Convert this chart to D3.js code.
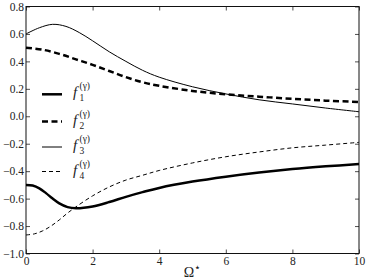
<!DOCTYPE html>
<html>
<head>
<meta charset="utf-8">
<script src="https://cdn.jsdelivr.net/npm/d3@7"></script>
<style>
  body { margin: 0; background: #fff; }
  svg { display: block; }
  svg text { font-family: "Liberation Serif", "DejaVu Serif", serif !important; }
</style>
</head>
<body>
<div id="chart"></div>
<script>
// data
const omega1 = [0, 0.2, 0.4, 0.6, 0.8, 1, 1.25, 1.5, 2, 2.5, 3, 3.5, 4, 5, 6, 7, 8, 9, 10];
const f1 = [-0.5, -0.505, -0.525, -0.56, -0.6, -0.635, -0.662, -0.67, -0.657, -0.625, -0.587, -0.553, -0.522, -0.476, -0.44, -0.41, -0.385, -0.365, -0.348];

const omega2 = [0, 0.5, 1, 1.5, 2, 2.5, 3, 3.5, 4, 5, 6, 7, 8, 9, 10];
const f2 = [0.5, 0.485, 0.455, 0.415, 0.375, 0.33, 0.285, 0.248, 0.222, 0.185, 0.16, 0.143, 0.127, 0.114, 0.104];

const omega3 = [0, 0.4, 0.8, 1.2, 1.6, 2, 2.5, 3, 3.5, 4, 5, 6, 7, 8, 9, 10];
const f3 = [0.6, 0.645, 0.67, 0.655, 0.61, 0.55, 0.47, 0.4, 0.335, 0.285, 0.215, 0.163, 0.12, 0.09, 0.06, 0.033];

const omega4 = [0, 0.25, 0.5, 0.75, 1, 1.25, 1.5, 2, 2.5, 3, 3.5, 4, 5, 6, 7, 8, 9, 10];
const f4 = [-0.865, -0.857, -0.835, -0.8, -0.755, -0.705, -0.66, -0.58, -0.515, -0.465, -0.43, -0.395, -0.34, -0.295, -0.26, -0.23, -0.21, -0.19];

const xTicks = [0, 2, 4, 6, 8, 10];
const yTicks = [-1.0, -0.8, -0.6, -0.4, -0.2, 0.0, 0.2, 0.4, 0.6, 0.8];
const seriesNames = ['1', '2', '3', '4'];

const W = 374, H = 280;
const margin = {top: 6.5, right: 15, bottom: 26.5, left: 26};

const svg = d3.select('#chart').append('svg')
    .attr('width', W)
    .attr('height', H);

const x = d3.scaleLinear().domain([0, 10]).range([margin.left, W - margin.right]);
const y = d3.scaleLinear().domain([-1.0, 0.8]).range([H - margin.bottom, margin.top]);

const fmt = d => d.toFixed(1).replace('-', '\u2212');

// axes, ticks pointing inward on all four sides
svg.append('g')
    .attr('transform', `translate(0,${H - margin.bottom})`)
    .call(d3.axisBottom(x).tickValues(xTicks).tickSizeInner(-4).tickSizeOuter(0).tickPadding(3).tickFormat(d3.format('d')));
svg.append('g')
    .attr('transform', `translate(0,${margin.top})`)
    .call(d3.axisTop(x).tickValues(xTicks).tickSizeInner(-4).tickSizeOuter(0).tickFormat(''));
svg.append('g')
    .attr('transform', `translate(${margin.left},0)`)
    .call(d3.axisLeft(y).tickValues(yTicks).tickSizeInner(-4).tickSizeOuter(0).tickPadding(2).tickFormat(fmt));
svg.append('g')
    .attr('transform', `translate(${W - margin.right},0)`)
    .call(d3.axisRight(y).tickValues(yTicks).tickSizeInner(-4).tickSizeOuter(0).tickFormat(''));

svg.selectAll('.domain').remove();
svg.selectAll('.tick line').attr('stroke', '#222').attr('stroke-width', 0.8);
svg.selectAll('.tick text').attr('font-size', 11.5).attr('fill', '#222');

svg.append('rect')
    .attr('x', margin.left).attr('y', margin.top)
    .attr('width', W - margin.left - margin.right)
    .attr('height', H - margin.top - margin.bottom)
    .attr('fill', 'none').attr('stroke', '#111').attr('stroke-width', 1);

// curves
const line = d3.line()
    .x(d => x(d[0]))
    .y(d => y(d[1]))
    .curve(d3.curveCatmullRom);

const series = [
    {xs: omega1, ys: f1, width: 2.5, dash: null},
    {xs: omega2, ys: f2, width: 2.5, dash: '6,3.5'},
    {xs: omega3, ys: f3, width: 1, dash: null},
    {xs: omega4, ys: f4, width: 1, dash: '4,3'}
];

svg.append('g').selectAll('path')
    .data(series)
    .enter().append('path')
    .attr('fill', 'none')
    .attr('stroke', '#000')
    .attr('stroke-width', d => d.width)
    .attr('stroke-dasharray', d => d.dash)
    .attr('d', d => line(d.xs.map((v, i) => [v, d.ys[i]])));

// legend
const legendY = [94.3, 121.5, 147, 171.5];
const legend = svg.append('g').selectAll('g')
    .data(series)
    .enter().append('g')
    .attr('transform', (d, i) => `translate(42,${legendY[i]})`);

legend.append('line')
    .attr('x1', 0).attr('x2', 20)
    .attr('stroke', '#000')
    .attr('stroke-width', d => d.width)
    .attr('stroke-dasharray', d => d.dash);

legend.append('text')
    .attr('x', 31).attr('y', 3)
    .attr('font-size', 15)
    .attr('font-style', 'italic')
    .attr('fill', '#222')
    .text('f');
legend.append('text')
    .attr('x', 37.5).attr('y', 7)
    .attr('font-size', 9.5)
    .attr('fill', '#222')
    .text((d, i) => seriesNames[i]);
legend.append('text')
    .attr('x', 37.5).attr('y', -5)
    .attr('font-size', 9.5)
    .attr('fill', '#222')
    .text('(\u03b3)');

// x label
svg.append('text')
    .attr('x', x(5)).attr('y', 277)
    .attr('text-anchor', 'middle')
    .attr('font-size', 14)
    .attr('fill', '#222')
    .text('\u03a9')
    .append('tspan').attr('dy', -6).attr('font-size', 11).text('\u22c6');
</script>
</body>
</html>
